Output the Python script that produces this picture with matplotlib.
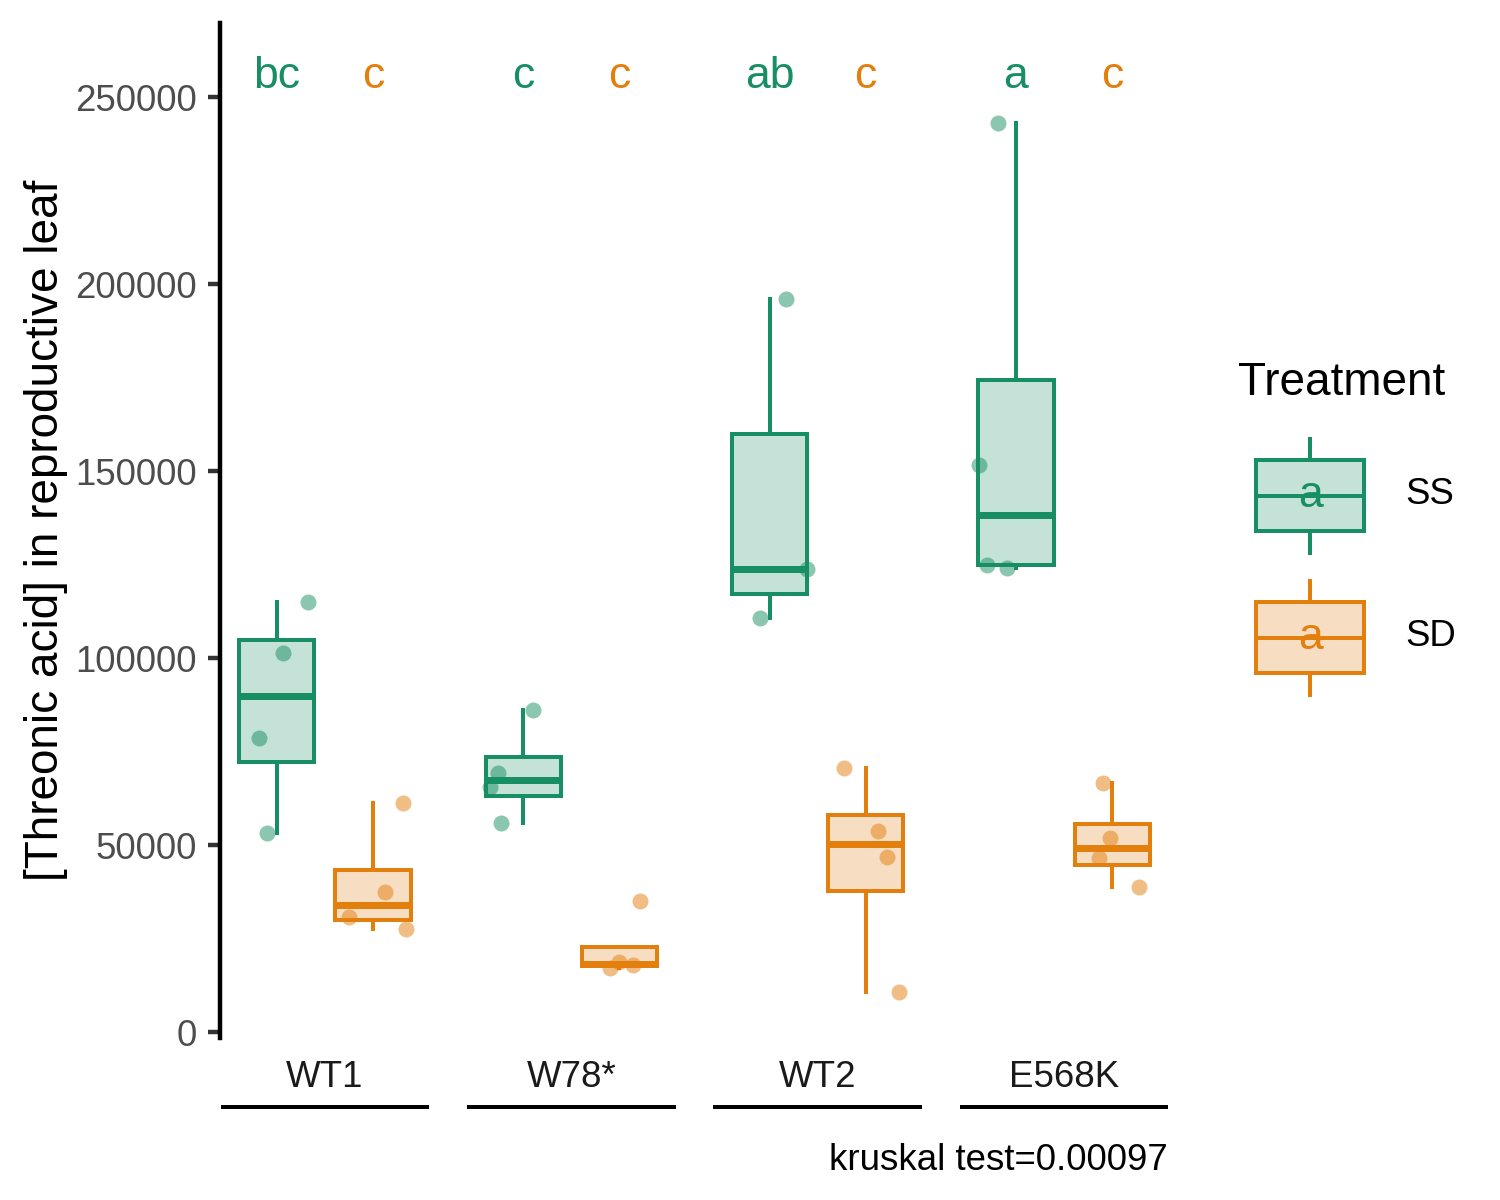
import matplotlib.pyplot as plt
import matplotlib.transforms as mtransforms
from matplotlib.colors import to_rgba
from matplotlib.patches import Patch, Rectangle
from matplotlib.lines import Line2D
from matplotlib.text import Text
from matplotlib.legend_handler import HandlerBase

plt.rcParams['font.family'] = ['Liberation Sans', 'DejaVu Sans']

# data
genotypes = ['WT1', 'W78*', 'WT2', 'E568K']
treatments = ['SS', 'SD']
values = {
    ('WT1', 'SS'): [53300, 78600, 101300, 115000],
    ('WT1', 'SD'): [27500, 30700, 37400, 61200],
    ('W78*', 'SS'): [55900, 65500, 69250, 86100],
    ('W78*', 'SD'): [17100, 17900, 18700, 35000],
    ('WT2', 'SS'): [110700, 123800, 196000],
    ('WT2', 'SD'): [10700, 46800, 53700, 70600],
    ('E568K', 'SS'): [124000, 125000, 151600, 243000],
    ('E568K', 'SD'): [38800, 46500, 51900, 66600],
}
# horizontal jitter of each point, as seen in the picture
jitter = {
    ('WT1', 'SS'): [-0.041, -0.073, 0.024, 0.126],
    ('WT1', 'SD'): [0.134, -0.097, 0.049, 0.122],
    ('W78*', 'SS'): [-0.091, -0.136, -0.104, 0.039],
    ('W78*', 'SD'): [-0.039, 0.055, -0.002, 0.083],
    ('WT2', 'SS'): [-0.039, 0.152, 0.067],
    ('WT2', 'SD'): [0.136, 0.087, 0.051, -0.087],
    ('E568K', 'SS'): [-0.037, -0.118, -0.150, -0.073],
    ('E568K', 'SD'): [0.110, -0.053, -0.008, -0.037],
}
letters = {
    ('WT1', 'SS'): 'bc', ('WT1', 'SD'): 'c',
    ('W78*', 'SS'): 'c', ('W78*', 'SD'): 'c',
    ('WT2', 'SS'): 'ab', ('WT2', 'SD'): 'c',
    ('E568K', 'SS'): 'a', ('E568K', 'SD'): 'c',
}
letter_y = 255600
yticks = [0, 50000, 100000, 150000, 200000, 250000]
caption = 'kruskal test=0.00097'

colors = {'SS': '#178E63', 'SD': '#E27F0D'}
dodge = {'SS': -0.195, 'SD': 0.195}
box_w = 0.305
px = 0.72  # points per pixel at dpi 100


class BoxKeyHandler(HandlerBase):
    def create_artists(self, legend, orig_handle, xdescent, ydescent,
                       width, height, fontsize, trans):
        col = orig_handle.get_edgecolor()
        fc = orig_handle.get_facecolor()
        x0, y0 = -xdescent, -ydescent
        lw = 4 * px
        rect = Rectangle((x0 + 0.125 * width, y0 + 0.25 * height),
                         0.75 * width, 0.5 * height, facecolor=fc,
                         edgecolor=col, lw=lw, transform=trans)
        xm = x0 + 0.5 * width
        w1 = Line2D([xm, xm], [y0 + 0.1 * height, y0 + 0.25 * height],
                    color=col, lw=lw, transform=trans)
        w2 = Line2D([xm, xm], [y0 + 0.75 * height, y0 + 0.9 * height],
                    color=col, lw=lw, transform=trans)
        med = Line2D([x0 + 0.125 * width, x0 + 0.875 * width],
                     [y0 + 0.5 * height] * 2, color=col, lw=lw, transform=trans)
        txt = Text(xm, y0 + 0.5 * height, 'a', color=col, fontsize=32,
                   ha='center', va='center', transform=trans)
        return [rect, w1, w2, med, txt]


fig = plt.figure(figsize=(15, 12), dpi=100)
ax = fig.add_axes([220 / 1500, 1 - 1038 / 1200, 948 / 1500, 1015 / 1200])

for gi, g in enumerate(genotypes):
    center = gi + 1
    for t in treatments:
        pos = center + dodge[t]
        col = colors[t]
        vals = values[(g, t)]
        ax.boxplot([vals], positions=[pos], widths=box_w, whis=1.5,
                   showfliers=False, showcaps=False, patch_artist=True,
                   boxprops=dict(facecolor=to_rgba(col, 0.25), edgecolor=col, lw=4 * px),
                   whiskerprops=dict(color=col, lw=4 * px),
                   medianprops=dict(color=col, lw=7 * px, solid_capstyle='butt'),
                   manage_ticks=False, zorder=2)
        xs = [pos + j for j in jitter[(g, t)]]
        ax.scatter(xs, vals, s=(16 * px) ** 2, color=col, alpha=0.5,
                   linewidths=0, zorder=3)
        ax.text(pos, letter_y, letters[(g, t)], color=col, fontsize=32,
                ha='center', va='center', zorder=4)

ax.set_xlim(0.574, 4.422)
ax.set_ylim(-1600, 269800)

for s in ['top', 'right', 'bottom']:
    ax.spines[s].set_visible(False)
ax.spines['left'].set_linewidth(3.2)

ax.set_yticks(yticks)
ax.set_yticklabels([str(v) for v in yticks])
ax.tick_params(axis='y', labelsize=26.4, labelcolor='#4D4D4D', length=12 * px,
               width=3.2, color='#333333', pad=11 * px)
ax.set_xticks(range(1, len(genotypes) + 1))
ax.set_xticklabels(genotypes)
ax.tick_params(axis='x', labelsize=26.4, labelcolor='#1A1A1A', length=0, pad=22 * px)

ax.set_ylabel('[Threonic acid] in reproductive leaf', fontsize=33, labelpad=5.5)

# underline bars beneath each genotype
trans = mtransforms.blended_transform_factory(ax.transData, ax.transAxes)
for gi, g in enumerate(genotypes):
    c = gi + 1
    ax.plot([c - 0.423, c + 0.423], [-0.068, -0.068], color='black', lw=4 * px,
            transform=trans, clip_on=False, solid_capstyle='butt')

ax.text(1.0, -0.121, caption, fontsize=26.4, color='black', ha='right',
        va='center', transform=ax.transAxes)

handles = [Patch(facecolor=to_rgba(colors[t], 0.25), edgecolor=colors[t]) for t in treatments]
leg = fig.legend(handles, treatments, title='Treatment', loc='upper left',
                 bbox_to_anchor=(1238 / 1500, 1 - 361 / 1200), frameon=False,
                 fontsize=26.4, title_fontsize=33, handlelength=3.93,
                 handleheight=5.58, labelspacing=0, handletextpad=0.63,
                 borderpad=0, borderaxespad=0, alignment='left',
                 handler_map={Patch: BoxKeyHandler()})
leg._legend_box.sep = 14.4  # gap between legend title and keys

fig.savefig('out.png', dpi=100)
